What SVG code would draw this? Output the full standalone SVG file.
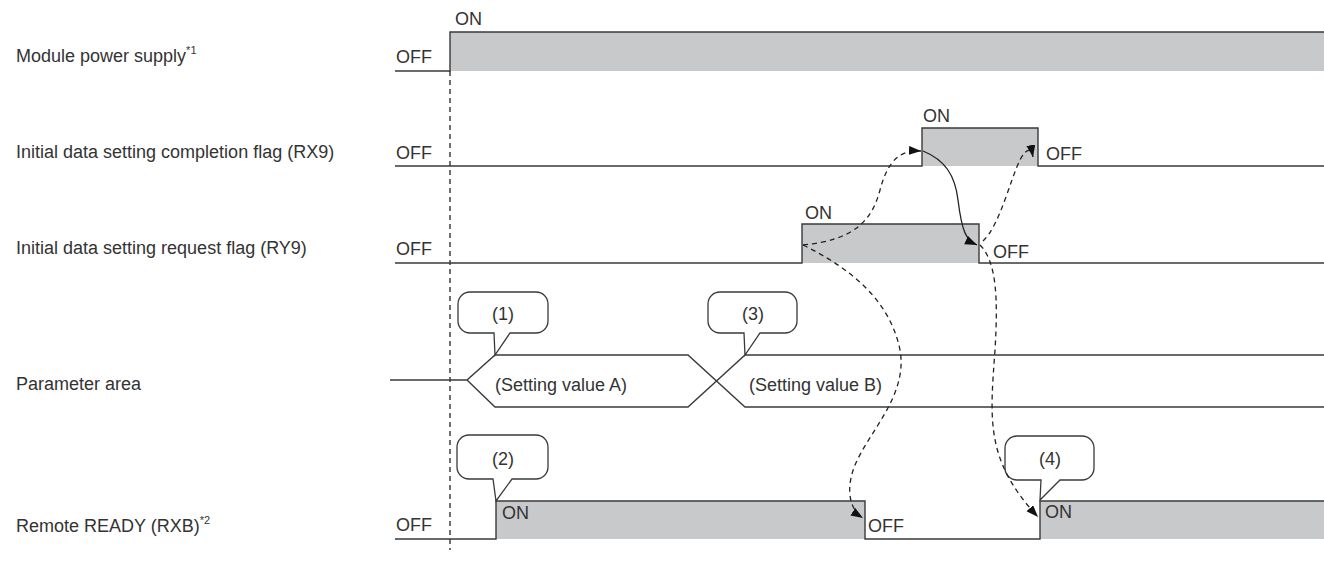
<svg xmlns="http://www.w3.org/2000/svg" width="1324" height="574" viewBox="0 0 1324 574">
<style>
text{font-family:"Liberation Sans",Arial,sans-serif;font-size:18px;fill:#333}
.sig{fill:none;stroke:#3a3a3a;stroke-width:1.4}
.hi{fill:#c8c9cb;stroke:none}
.edge{fill:none;stroke:#3a3a3a;stroke-width:1.4}
.dash{fill:none;stroke:#222;stroke-width:1.3;stroke-dasharray:5,4}
.solid{fill:none;stroke:#222;stroke-width:1.3}
.callout{fill:#fff;stroke:#3a3a3a;stroke-width:1.3}
.sup{font-size:11px}
.mid{text-anchor:middle}
</style>
<defs>
<marker id="ah" markerWidth="13" markerHeight="10" refX="12" refY="4.5" orient="auto" markerUnits="userSpaceOnUse">
<path d="M0,0 L12,4.5 L0,9 z" fill="#111"/>
</marker>
</defs>

<g id="labels">
<text x="16" y="62">Module power supply<tspan class="sup" dy="-8">*1</tspan></text>
<text x="16" y="158">Initial data setting completion flag (RX9)</text>
<text x="16" y="254">Initial data setting request flag (RY9)</text>
<text x="16" y="390">Parameter area</text>
<text x="16" y="532">Remote READY (RXB)<tspan class="sup" dy="-8">*2</tspan></text>
</g>

<g id="power">
<rect class="hi" x="450" y="32" width="874" height="39"/>
<path class="edge" d="M395,71 H450 V32 H1324"/>
<text x="396" y="63">OFF</text>
<text x="455" y="25">ON</text>
</g>

<line id="ref-line" x1="450" y1="71" x2="450" y2="550" class="dash" stroke="#333"/>

<g id="rx9">
<rect class="hi" x="922" y="128" width="116" height="38"/>
<path class="edge" d="M395,166 H922 V128 H1038 V166 H1324"/>
<text x="396" y="159">OFF</text>
<text x="923" y="122">ON</text>
<text x="1046" y="160">OFF</text>
</g>

<g id="ry9">
<rect class="hi" x="802" y="224" width="177" height="39"/>
<path class="edge" d="M395,263 H802 V224 H979 V263 H1324"/>
<text x="396" y="255">OFF</text>
<text x="805" y="219">ON</text>
<text x="993" y="258">OFF</text>
</g>

<g id="param">
<path class="edge" d="M390,380 H467 L495,355 H688 L745,407 H1324"/>
<path class="edge" d="M467,380 L495,407 H688 L745,355 H1324"/>
<text x="495" y="391">(Setting value A)</text>
<text x="749" y="391">(Setting value B)</text>
</g>

<g id="rxb">
<rect class="hi" x="496" y="501" width="369" height="38"/>
<rect class="hi" x="1040" y="501" width="284" height="38"/>
<path class="edge" d="M395,539 H496 V501 H865 V539 H1040 V501 H1324"/>
<text x="396" y="531">OFF</text>
<text x="502" y="519">ON</text>
<text x="868" y="532">OFF</text>
<text x="1045" y="518">ON</text>
</g>

<g id="callout1">
<path class="callout" d="M470,292 H536 A12,12 0 0 1 548,304 V321 A12,12 0 0 1 536,333 H510 L495,355 L494,333 H470 A12,12 0 0 1 458,321 V304 A12,12 0 0 1 470,292 Z"/>
<text class="mid" x="503" y="320">(1)</text>
</g>
<g id="callout2">
<path class="callout" d="M469,435 H536 A12,12 0 0 1 548,447 V467 A12,12 0 0 1 536,479 H512 L496,501 L493,479 H469 A12,12 0 0 1 457,467 V447 A12,12 0 0 1 469,435 Z"/>
<text class="mid" x="503" y="465">(2)</text>
</g>
<g id="callout3">
<path class="callout" d="M720,292 H785 A12,12 0 0 1 797,304 V321 A12,12 0 0 1 785,333 H760 L745,355 L744,333 H720 A12,12 0 0 1 708,321 V304 A12,12 0 0 1 720,292 Z"/>
<text class="mid" x="753" y="320">(3)</text>
</g>
<g id="callout4">
<path class="callout" d="M1017,436 H1082 A12,12 0 0 1 1094,448 V468 A12,12 0 0 1 1082,480 H1060 L1040,500 L1041,480 H1017 A12,12 0 0 1 1005,468 V448 A12,12 0 0 1 1017,436 Z"/>
<text class="mid" x="1050" y="465">(4)</text>
</g>

<g id="connectors">
<path class="dash" marker-end="url(#ah)" d="M803,245 C855,240 872,220 880,190 C888,160 900,150 921,151"/>
<path class="solid" marker-end="url(#ah)" d="M923,151 C945,160 955,175 958,200 C962,232 966,240 977,245"/>
<path class="dash" marker-end="url(#ah)" d="M983,241 C1000,225 1010,180 1020,160 C1025,150 1031,146 1033,157"/>
<path class="dash" marker-end="url(#ah)" d="M803,245 C850,268 890,300 900,350 C908,395 870,430 855,465 C845,490 850,510 863,518"/>
<path class="dash" marker-end="url(#ah)" d="M980,245 C997,262 998,300 995,350 C990,420 985,460 1038,517"/>
</g>
</svg>
